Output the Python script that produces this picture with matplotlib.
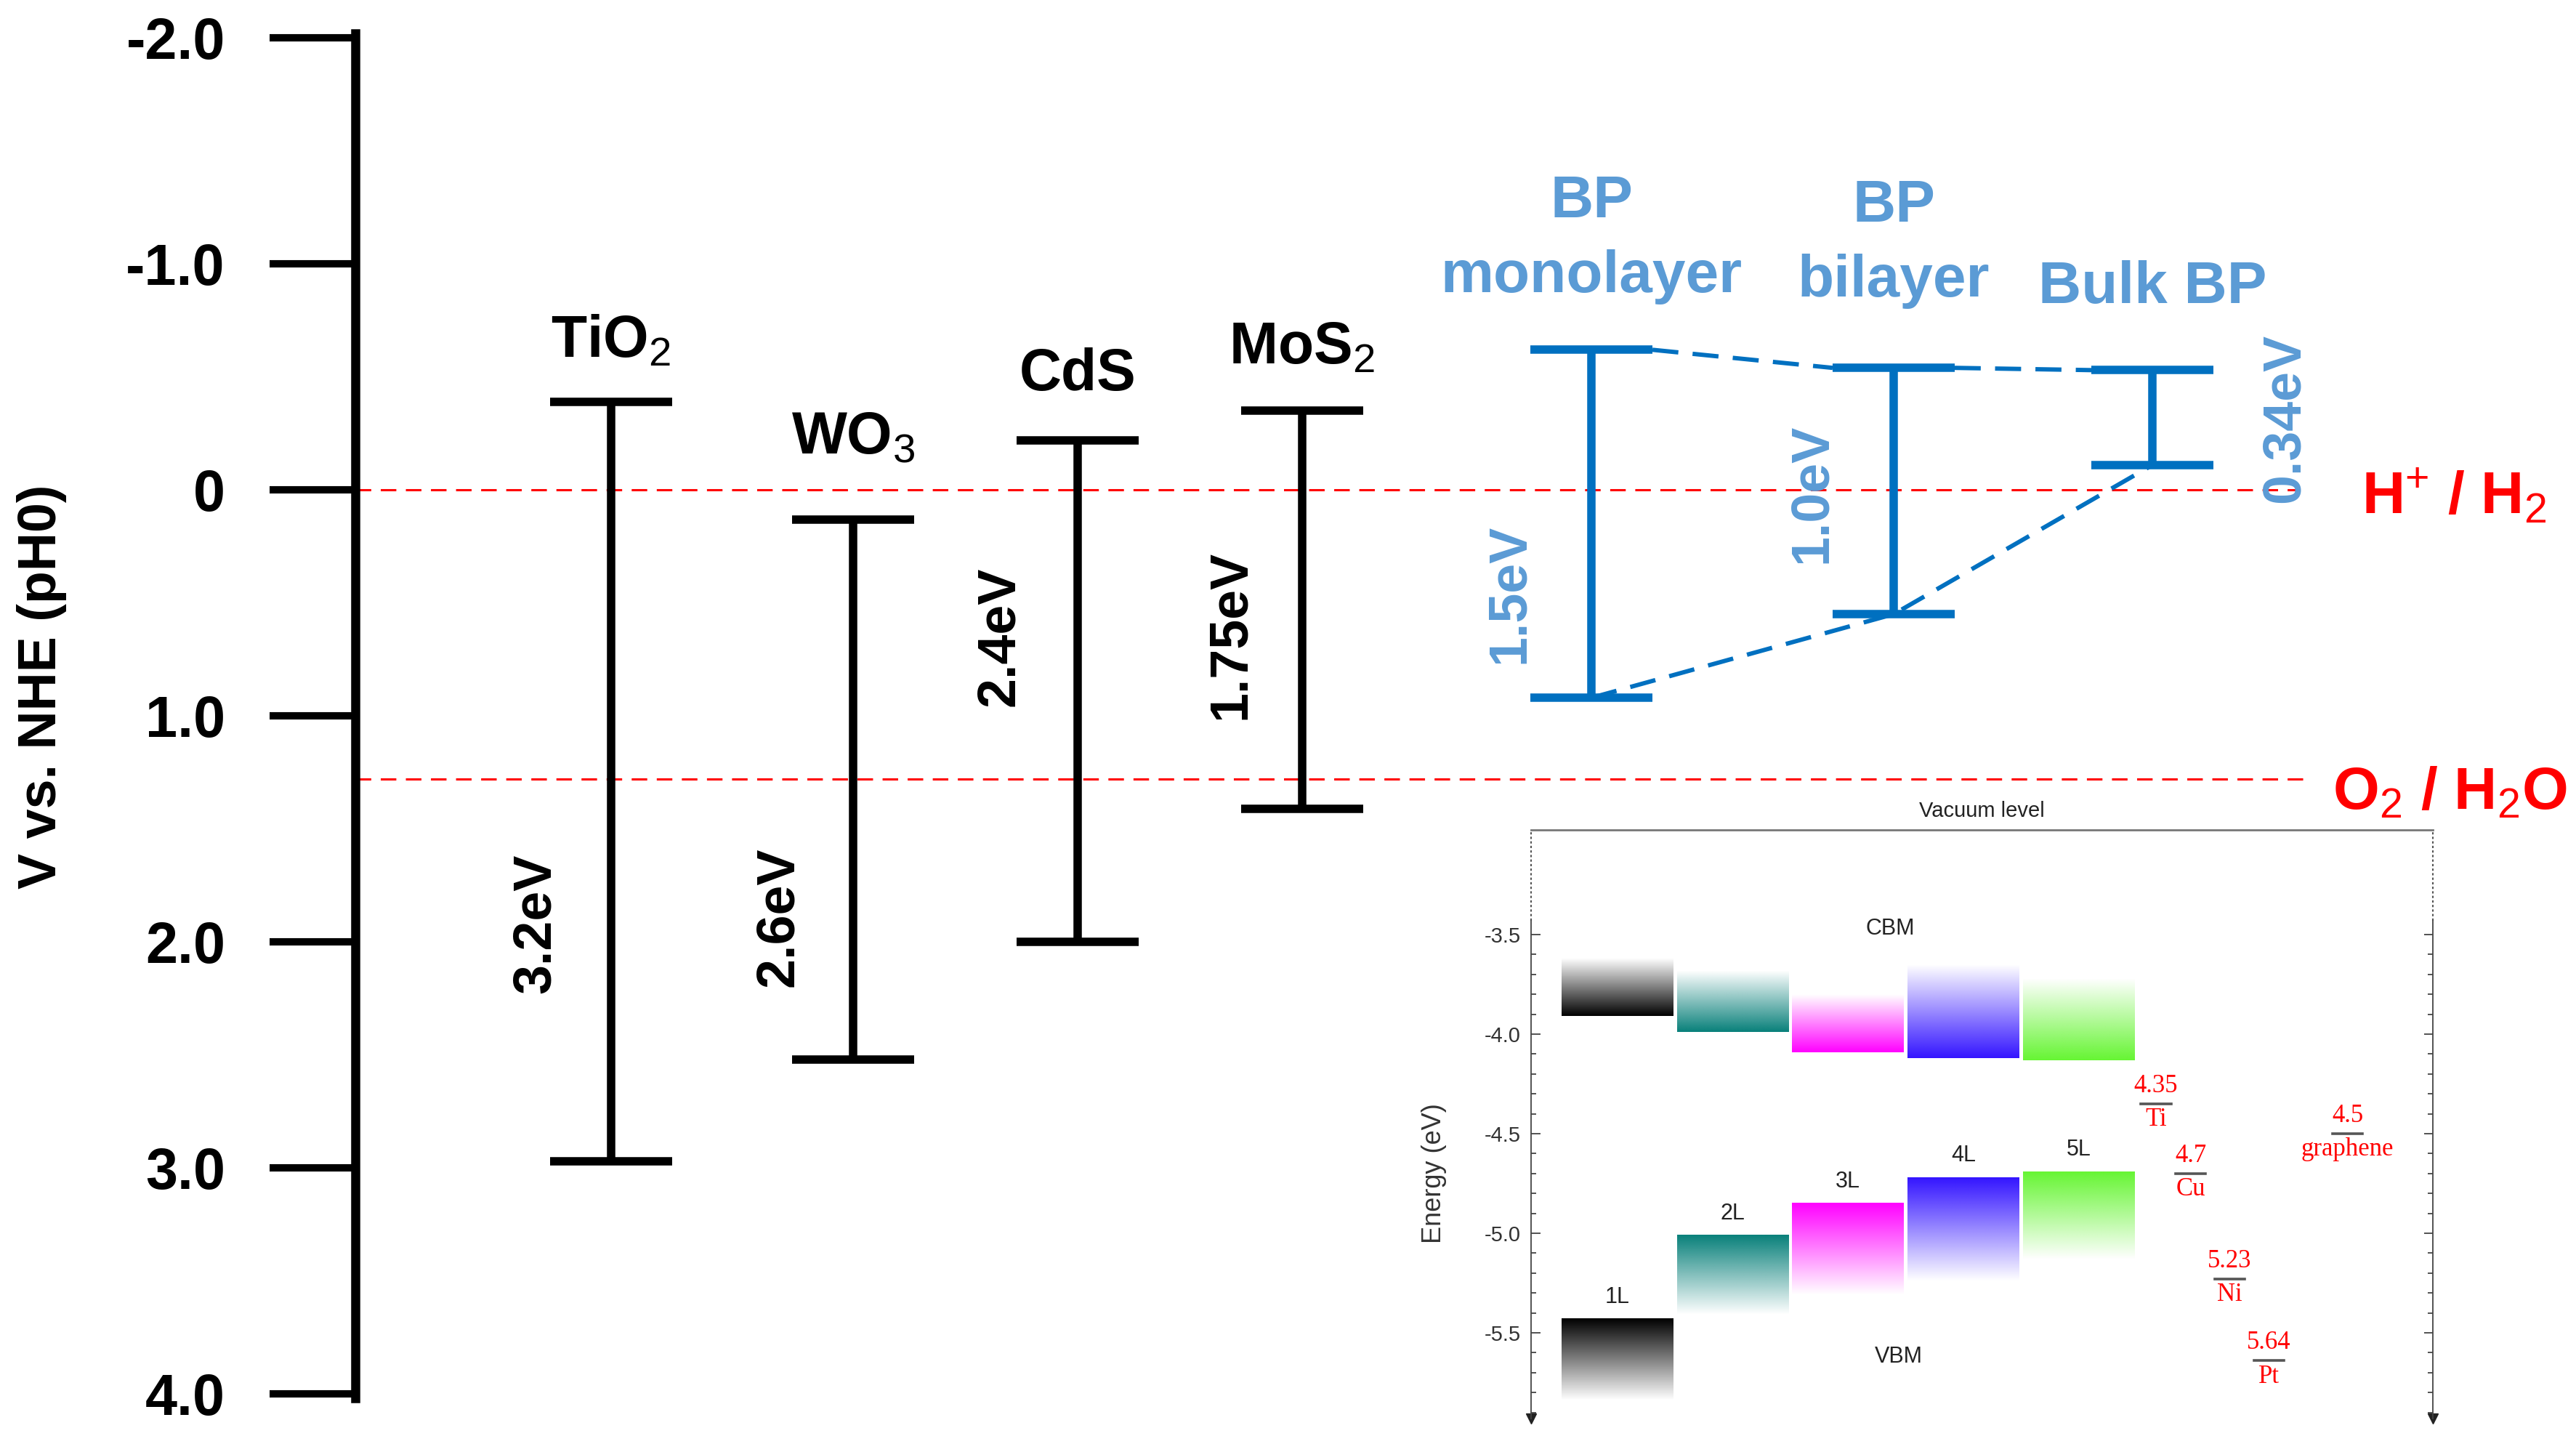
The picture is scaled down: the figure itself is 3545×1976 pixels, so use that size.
import matplotlib
matplotlib.use('Agg')
import matplotlib.pyplot as plt
import numpy as np
from matplotlib.colors import to_rgb

plt.rcParams['font.family'] = ['Liberation Sans', 'DejaVu Sans']
plt.rcParams['mathtext.fontset'] = 'custom'
plt.rcParams['mathtext.rm'] = 'Liberation Sans'
plt.rcParams['mathtext.it'] = 'Liberation Sans:italic'
plt.rcParams['mathtext.bf'] = 'Liberation Sans:bold'

# --- main diagram: band edges vs NHE (V) ---
materials = ['TiO$_2$', 'WO$_3$', 'CdS', 'MoS$_2$']
mat_cb = [-0.39, 0.13, -0.22, -0.35]
mat_vb = [2.97, 2.52, 2.00, 1.41]
mat_gap = ['3.2eV', '2.6eV', '2.4eV', '1.75eV']

bp_names = ['BP\nmonolayer', 'BP\nbilayer', 'Bulk BP']
bp_cb = [-0.62, -0.54, -0.53]
bp_vb = [0.92, 0.55, -0.11]
bp_gap = ['1.5eV', '1.0eV', '0.34eV']

redox_names = ['H$^{+}$ / H$_2$', 'O$_2$ / H$_2$O']
redox_v = [0.0, 1.28]

yticks = [-2, -1, 0, 1, 2, 3, 4]
ytick_labels = ['-2.0', '-1.0', '0', '1.0', '2.0', '3.0', '4.0']

# --- inset: phosphorene layers vs vacuum level (eV) ---
layers = ['1L', '2L', '3L', '4L', '5L']
cbm = [-3.91, -3.99, -4.09, -4.12, -4.13]
cb_fade = [-3.62, -3.68, -3.80, -3.65, -3.72]
vbm = [-5.43, -5.01, -4.85, -4.72, -4.69]
vb_fade = [-5.84, -5.41, -5.31, -5.24, -5.13]
layer_colors = ['#000000', '#08807A', '#FF00FF', '#3314FF', '#66F533']

metals = ['Ti', 'Cu', 'Ni', 'Pt', 'graphene']
work_fn = [4.35, 4.7, 5.23, 5.64, 4.5]

# layout (pixel-like x units for the main axes)
W, H = 3545, 1976
mat_x = [841, 1174, 1483, 1792]
mat_label_y = [-0.59, -0.16, -0.44, -0.56]
mat_gap_pos = [(737, 1.92), (1071, 1.89), (1375, 0.65), (1693, 0.64)]
bp_x = [2190, 2606, 2962]
bp_label_y = [-0.875, -0.857, -0.827]
bp_gap_pos = [(2077, 0.46), (2493, 0.016), (3144, -0.316)]
redox_end = [3165, 3180]
redox_text = [(3250, 0.106), (3210, 1.411)]
half = 84

black = '#000000'
blue_bar = '#0070C0'
blue_txt = '#5B9BD5'
red = '#FF0000'

fig = plt.figure(figsize=(W / 100, H / 100), dpi=100, facecolor='white')
ax = fig.add_axes([0, 0, 1, 1])
ax.set_xlim(0, W)
ax.set_ylim(4.187, -2.168)
for s in ['top', 'right', 'bottom']:
    ax.spines[s].set_visible(False)
ax.spines['left'].set_position(('data', 489))
ax.spines['left'].set_linewidth(9)
ax.spines['left'].set_bounds(-2.02, 4.02)
ax.set_xticks([])
ax.set_yticks(yticks)
ax.set_yticklabels(ytick_labels, fontweight='bold')
ax.tick_params(axis='y', direction='out', length=85, width=7.3, pad=44, labelsize=57)
ax.text(58, 0.87, 'V vs. NHE (pH0)', rotation=90, fontsize=53, fontweight='bold',
        ha='center', va='center')

# redox levels
for v, name, xe, (tx, ty) in zip(redox_v, redox_names, redox_end, redox_text):
    ax.plot([489, xe], [v, v], color=red, lw=2.2, ls=(0, (7, 4.3)), zorder=1)
    ax.text(tx, ty, name, color=red, fontsize=59, fontweight='bold', ha='left', va='baseline')

# conventional semiconductors
for x, cb, vb, name, ly, g, (gx, gy) in zip(mat_x, mat_cb, mat_vb, materials,
                                            mat_label_y, mat_gap, mat_gap_pos):
    ax.plot([x, x], [cb, vb], color=black, lw=8.3, solid_capstyle='butt')
    ax.plot([x - half, x + half], [cb, cb], color=black, lw=8.3, solid_capstyle='butt')
    ax.plot([x - half, x + half], [vb, vb], color=black, lw=8.3, solid_capstyle='butt')
    ax.text(x, ly, name, fontsize=58, fontweight='bold', ha='center', va='baseline')
    ax.text(gx, gy, g, fontsize=53, fontweight='bold', rotation=90, ha='center', va='center')

# black phosphorus
for x, cb, vb, name, ly, g, (gx, gy) in zip(bp_x, bp_cb, bp_vb, bp_names,
                                            bp_label_y, bp_gap, bp_gap_pos):
    ax.plot([x, x], [cb, vb], color=blue_bar, lw=8.3, solid_capstyle='butt', zorder=3)
    ax.plot([x - half, x + half], [cb, cb], color=blue_bar, lw=8.3, solid_capstyle='butt', zorder=3)
    ax.plot([x - half, x + half], [vb, vb], color=blue_bar, lw=8.3, solid_capstyle='butt', zorder=3)
    lines = name.split('\n')
    for k, t in enumerate(reversed(lines)):
        ax.text(x, ly - 0.33 * k, t, fontsize=59, fontweight='bold', color=blue_txt,
                ha='center', va='baseline')
    ax.text(gx, gy, g, fontsize=53, fontweight='bold', rotation=90, color=blue_txt,
            ha='center', va='center')

dash_blue = dict(color=blue_bar, lw=4.3, ls=(0, (6, 3.3)), zorder=2)
for i in range(len(bp_x) - 1):
    ax.plot([bp_x[i] + half, bp_x[i + 1] - half], [bp_cb[i], bp_cb[i + 1]], **dash_blue)
ax.plot(bp_x, bp_vb, **dash_blue)

# --- inset ---
inset_font = ['Liberation Sans Narrow', 'Liberation Sans', 'DejaVu Sans']
ax_in = fig.add_axes([2107 / W, 1 - 1960 / H, (3348 - 2107) / W, (1960 - 1142) / H])
ax_in.set_facecolor('white')
xl, xr = 0.254, 8.07
yb, yt = -5.96, -2.974

w = 0.965
n = 200
for i, (c, lo, hi, top, bot) in enumerate(zip(layer_colors, cbm, cb_fade, vbm, vb_fade)):
    x = i + 1
    grad = np.zeros((n, 1, 4))
    grad[..., :3] = to_rgb(c)
    grad[:, 0, 3] = np.linspace(1, 0, n)
    ax_in.imshow(grad, extent=[x - w / 2, x + w / 2, lo, hi], origin='lower',
                 aspect='auto', interpolation='bilinear')
    grad2 = grad.copy()
    grad2[:, 0, 3] = np.linspace(0, 1, n)
    ax_in.imshow(grad2, extent=[x - w / 2, x + w / 2, bot, top], origin='lower',
                 aspect='auto', interpolation='bilinear')
    ax_in.text(x, top + 0.11, layers[i], fontsize=22, family=inset_font, color='#222222',
               ha='center', va='center')

ax_in.text(3.37, -3.47, 'CBM', fontsize=22, family=inset_font, color='#222222', ha='center', va='center')
ax_in.text(3.44, -5.62, 'VBM', fontsize=22, family=inset_font, color='#222222', ha='center', va='center')

metal_x = [5.67, 5.97, 6.31, 6.65, 7.33]
for mx, m, v in zip(metal_x, metals, work_fn):
    ax_in.plot([mx - 0.13, mx + 0.13], [-v, -v], color='#555555', lw=2.6)
    ax_in.text(mx, -v + 0.09, str(v), color=red, fontsize=25, family='Liberation Serif',
               ha='center', va='center')
    ax_in.text(mx, -v - 0.08, m, color=red, fontsize=25, family='Liberation Serif',
               ha='center', va='center')

ax_in.set_xlim(xl, xr)
ax_in.set_ylim(yb, yt)
ax_in.set_xticks([])
in_major = [-3.5, -4.0, -4.5, -5.0, -5.5]
ax_in.set_yticks(in_major)
ax_in.set_yticklabels(['-3.5', '-4.0', '-4.5', '-5.0', '-5.5'], family=inset_font)
minor = [v for v in np.round(np.arange(-5.9, -3.55, 0.1), 2) if v not in in_major]
ax_in.set_yticks(minor, minor=True)
ax_in.tick_params(axis='y', which='both', direction='in', left=True, right=True,
                  labelsize=21, pad=10, color='#444444', labelcolor='#333333')
ax_in.tick_params(axis='y', which='major', length=9, width=1.3)
ax_in.tick_params(axis='y', which='minor', length=5, width=1.3)
ax_in.spines['bottom'].set_visible(False)
ax_in.spines['top'].set_color('#777777')
ax_in.spines['top'].set_linewidth(2)
for s, xs in [('left', xl), ('right', xr)]:
    ax_in.spines[s].set_color('#444444')
    ax_in.spines[s].set_linewidth(1.3)
    ax_in.spines[s].set_bounds(yb + 0.03, -3.43)
    ax_in.plot([xs, xs], [-3.43, yt], color='#555555', lw=1.5, ls=(0, (1.5, 1.5)), clip_on=False)
    ax_in.plot([xs], [yb + 0.03], marker='v', ms=10, color='#222222', clip_on=False)

ax_in.text(-0.587, -4.70, 'Energy (eV)', rotation=90, fontsize=26, color='#333333',
           ha='center', va='center', clip_on=False)
ax_in.text((xl + xr) / 2, -2.88, 'Vacuum level', fontsize=21, family=inset_font,
           color='#222222', ha='center', va='center', clip_on=False)

fig.savefig('out.png', dpi=100)
